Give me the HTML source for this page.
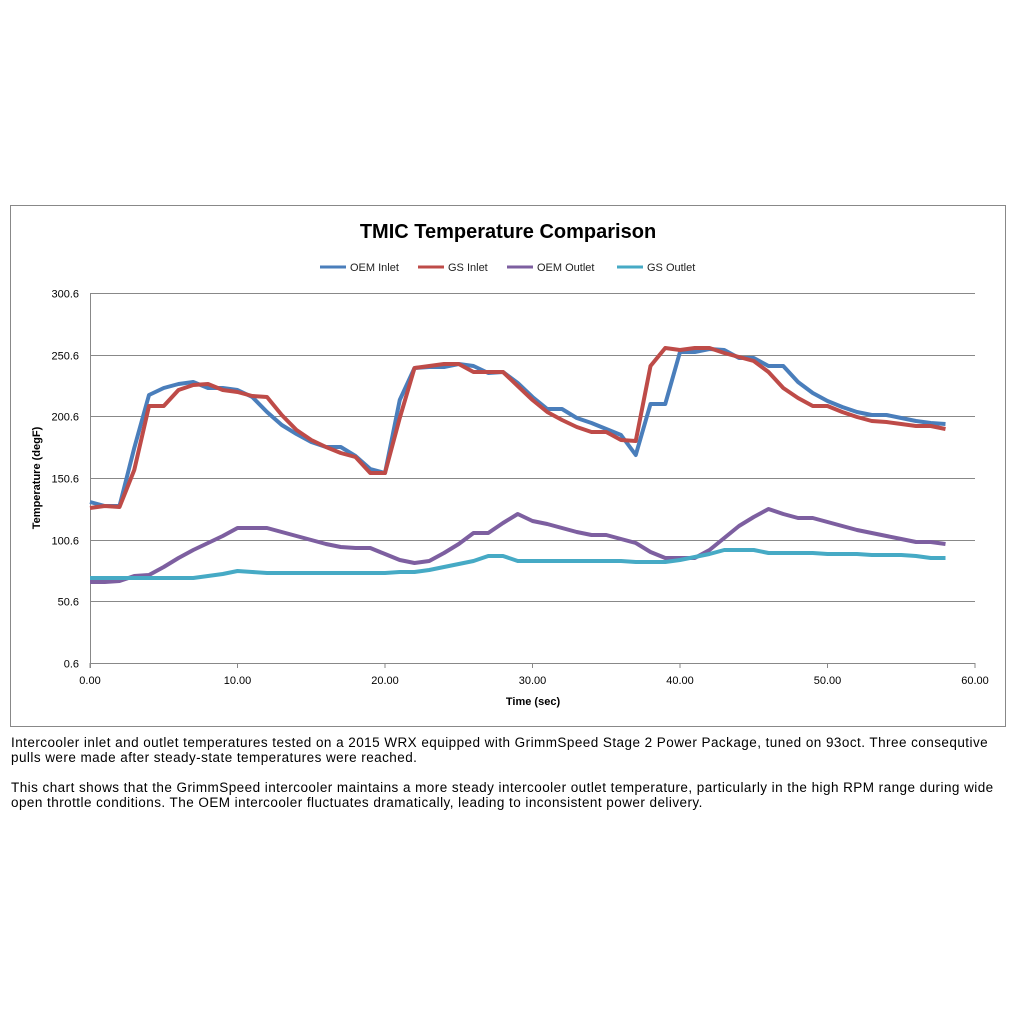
<!DOCTYPE html>
<html><head><meta charset="utf-8"><style>
body{margin:0;background:#fff;width:1016px;height:1016px;overflow:hidden;font-family:"Liberation Sans",sans-serif}
.cap{position:absolute;left:11px;font-size:13.5px;letter-spacing:0.45px;line-height:15px;color:#000;width:1000px}
</style></head><body>
<svg id="s" width="1016" height="1016" style="position:absolute;left:0;top:0" font-family="Liberation Sans, sans-serif">
<rect x="10.5" y="205.5" width="995" height="521" fill="#fff" stroke="#888"/>
<text x="508" y="238" font-size="20" font-weight="bold" text-anchor="middle">TMIC Temperature Comparison</text>
<g font-size="11" fill="#222">
<line x1="320" y1="267" x2="346" y2="267" stroke="#4a7ebb" stroke-width="3"/><text x="350" y="271">OEM Inlet</text>
<line x1="418" y1="267" x2="444" y2="267" stroke="#be4b48" stroke-width="3"/><text x="448" y="271">GS Inlet</text>
<line x1="507" y1="267" x2="533" y2="267" stroke="#7d5fa0" stroke-width="3"/><text x="537" y="271">OEM Outlet</text>
<line x1="617" y1="267" x2="643" y2="267" stroke="#46aac5" stroke-width="3"/><text x="647" y="271">GS Outlet</text>
</g>
<g id="grid" stroke="#888" stroke-width="1"></g>
<g id="lbl" font-size="11" fill="#000"></g>
<text x="533" y="705" font-size="11" font-weight="bold" text-anchor="middle">Time (sec)</text>
<text transform="translate(40,478) rotate(-90)" font-size="11" font-weight="bold" text-anchor="middle">Temperature (degF)</text>
<g id="lines" fill="none" stroke-width="4" stroke-linejoin="round"></g>
</svg>
<div class="cap" style="top:735px">Intercooler inlet and outlet temperatures tested on a 2015 WRX equipped with GrimmSpeed Stage 2 Power Package, tuned on 93oct. Three consequtive pulls were made after steady-state temperatures were reached.</div>
<div class="cap" style="top:780px">This chart shows that the GrimmSpeed intercooler maintains a more steady intercooler outlet temperature, particularly in the high RPM range during wide open throttle conditions. The OEM intercooler fluctuates dramatically, leading to inconsistent power delivery.</div>
<script>
var NS="http://www.w3.org/2000/svg";
function el(p,t,a,txt){var e=document.createElementNS(NS,t);for(var k in a)e.setAttribute(k,a[k]);if(txt)e.textContent=txt;document.getElementById(p).appendChild(e);}
var ylab=["300.6","250.6","200.6","150.6","100.6","50.6","0.6"];
for(var i=0;i<7;i++){var y=293+i*61.67;y=Math.round(y)+0.5;
 el("grid","line",{x1:90,x2:975,y1:y,y2:y});
 el("lbl","text",{x:79,y:y+4,"text-anchor":"end"},ylab[i]);}
el("grid","line",{x1:90.5,x2:90.5,y1:293,y2:668});
for(var i=0;i<=6;i++){var x=90+i*147.5;el("grid","line",{x1:x,x2:x,y1:663,y2:668});
 el("lbl","text",{x:x,y:684,"text-anchor":"middle"},(i*10).toFixed(2));}
var S=[
["#4a7ebb",[502,506,506,448,395,388,384,382,388,388,390,397,412,425,434,442,447,447,456,469,473,400,368,367,367,364,366,373,372,383,397,409,409,418,423,429,435,455,404,404,352,352,349,350,358,358,366,366,382,393,401,407,412,415,415,418,421,423,424]],
["#be4b48",[508,506,507,470,406,406,390,385,384,390,392,396,397,415,430,440,447,453,457,473,473,418,368,366,364,364,372,372,372,386,400,412,420,427,432,432,440,441,366,348,350,348,348,353,357,361,372,388,398,406,406,412,417,421,422,424,426,426,429]],
["#7d5fa0",[582,582,581,576,575,567,558,550,543,536,528,528,528,532,536,540,544,547,548,548,554,560,563,561,553,544,533,533,523,514,521,524,528,532,535,535,539,543,552,558,558,558,550,538,526,517,509,514,518,518,522,526,530,533,536,539,542,542,544,546]],
["#46aac5",[578,578,578,578,578,578,578,578,576,574,571,572,573,573,573,573,573,573,573,573,573,572,572,570,567,564,561,556,556,561,561,561,561,561,561,561,561,562,562,562,560,557,554,550,550,550,553,553,553,553,554,554,554,555,555,555,556,558,558]]];
S.forEach(function(s){var p=[];for(var t=0;t<=58;t++)p.push((90+14.75*t).toFixed(2)+","+s[1][t]);
 el("lines","polyline",{points:p.join(" "),stroke:s[0]});});
</script>
</body></html>
